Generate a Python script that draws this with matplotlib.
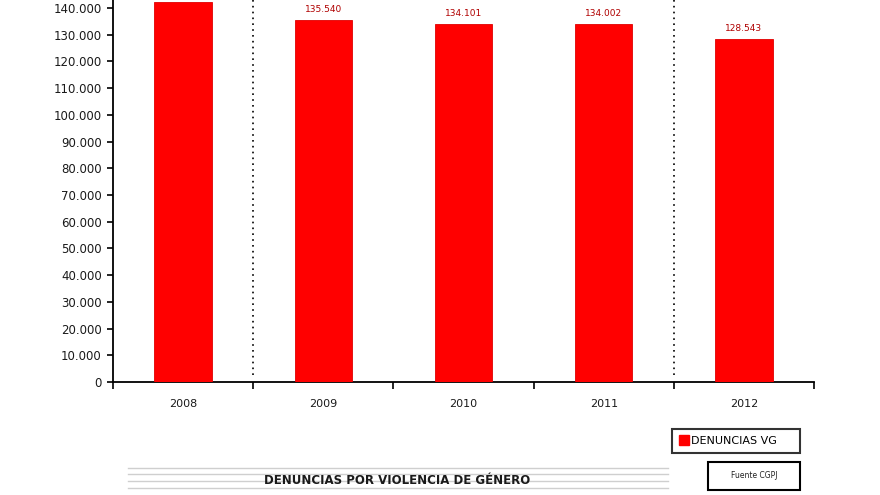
import matplotlib
matplotlib.use('Agg')
import matplotlib.pyplot as plt
from matplotlib.patches import Rectangle
from matplotlib.lines import Line2D

# data
years = ['2008', '2009', '2010', '2011', '2012']
denuncias = [142125, 135540, 134101, 134002, 128543]
labels = ['', '135.540', '134.101', '134.002', '128.543']
yticks = list(range(0, 140001, 10000))

W, H = 880, 495
fig = plt.figure(figsize=(W / 100, H / 100), dpi=100)
ax = fig.add_axes([113 / W, 1 - 382 / H, (814 - 113) / W, 382 / H])

x = list(range(len(years)))
bars = ax.bar(x, denuncias, width=0.41, color='#ff0000', edgecolor='#e00000',
              linewidth=0.6, label='DENUNCIAS VG', zorder=3)

for xi, v, lab in zip(x, denuncias, labels):
    if lab:
        ax.annotate(lab, (xi, v), xytext=(0, 4), textcoords='offset points',
                    ha='center', va='bottom', fontsize=6.5, color='#b00000')

# dotted separators
for xs in [0.5, 3.5]:
    ax.plot([xs, xs], [2500, 143000], color='black', linestyle=(0, (1, 2.5)),
            linewidth=1.2, zorder=2)

ax.set_xlim(-0.5, 4.5)
ax.set_ylim(0, 143000)
ax.set_yticks(yticks)
ax.set_yticklabels([f'{t:,}'.replace(',', '.') for t in yticks], fontsize=8.5,
                   color='#1a1a1a')
ax.set_xticks(x)
ax.set_xticklabels(years, fontsize=8, color='#1a1a1a')
ax.tick_params(axis='x', which='major', length=0, pad=12)
ax.set_xticks([-0.5, 0.5, 1.5, 2.5, 3.5, 4.5], minor=True)
ax.tick_params(axis='x', which='minor', length=5, width=1.2, direction='out')
ax.tick_params(axis='y', length=4, width=1.2, direction='out', pad=4)
for s in ['top', 'right']:
    ax.spines[s].set_visible(False)
ax.spines['left'].set_linewidth(1.3)
ax.spines['bottom'].set_linewidth(1.3)

# legend box
leg = fig.legend(handles=[Line2D([], [], marker='s', color='#ff0000', linestyle='none',
                                 markersize=7, label='DENUNCIAS VG')],
                 loc='center', bbox_to_anchor=(672 / W, 1 - 455 / H, 128 / W, 28 / H),
                 mode='expand', fontsize=8, frameon=True, fancybox=False,
                 handletextpad=0.1, borderpad=0.6, handlelength=1.0,
                 borderaxespad=0)
leg.get_frame().set_edgecolor('black')
leg.get_frame().set_linewidth(1.5)

# source box
fig.patches.append(Rectangle((708 / W, 1 - 490 / H), 92 / W, 28 / H,
                             transform=fig.transFigure, fill=False,
                             edgecolor='black', linewidth=1.5))
fig.text(754 / W, 1 - 476 / H, 'Fuente CGPJ', fontsize=5.5, ha='center',
         va='center', color='#222222')

# title lines and text
for yl in [468, 474, 481, 488]:
    fig.add_artist(Line2D([128 / W, 668 / W], [1 - yl / H, 1 - yl / H],
                          color='#cfcfcf', linewidth=1.0))
fig.text(397 / W, 1 - 481 / H, 'DENUNCIAS POR VIOLENCIA DE GÉNERO', fontsize=8.5,
         fontweight='bold', ha='center', va='center', color='#1a1a1a')

fig.savefig('out.png', dpi=100)
